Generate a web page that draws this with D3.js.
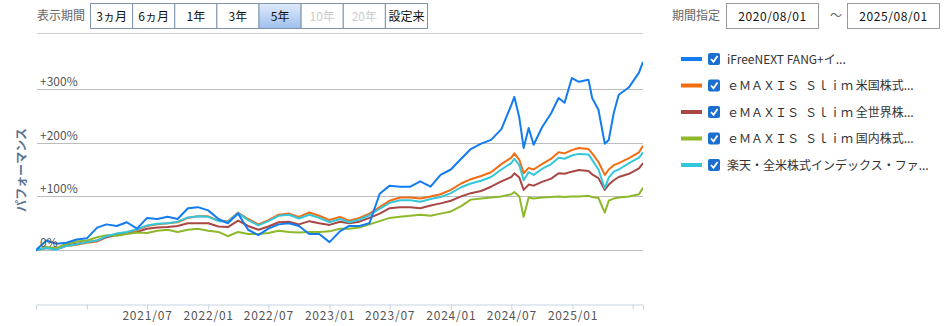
<!DOCTYPE html>
<html>
<head>
<meta charset="utf-8">
<script src="https://cdn.jsdelivr.net/npm/d3@7"></script>
<style>
  body { margin: 0; background: #fff; }
  svg { font-family: "Noto Sans CJK JP", "Noto Sans", sans-serif; }
</style>
</head>
<body>
<div id="chart"></div>
<script>
// 期間ボタン
var periodButtons = ["3ヵ月", "6ヵ月", "1年", "3年", "5年", "10年", "20年", "設定来"];
var selectedPeriod = "5年";
var disabledPeriods = ["10年", "20年"];

var startDate = "2020/08/01";
var endDate = "2025/08/01";

// ファンド名
var fundNames = [
  "iFreeNEXT FANG+イ...",
  "ｅＭＡＸＩＳ\u2002Ｓｌｉｍ 米国株式...",
  "ｅＭＡＸＩＳ\u2002Ｓｌｉｍ 全世界株...",
  "ｅＭＡＸＩＳ\u2002Ｓｌｉｍ 国内株式...",
  "楽天・全米株式インデックス・ファ..."
];
var fundColors = ["#127cf0", "#f26d12", "#a84744", "#8cb82a", "#34c6da"];

// 日付
var dates = [
  "2020-08-01","2020-09-01","2020-10-01","2020-11-01","2020-12-01",
  "2021-01-01","2021-02-01","2021-03-01","2021-04-01","2021-05-01","2021-06-01",
  "2021-07-01","2021-08-01","2021-09-01","2021-10-01","2021-11-01","2021-12-01",
  "2022-01-01","2022-02-01","2022-03-01","2022-04-01","2022-05-01","2022-06-01",
  "2022-07-01","2022-08-01","2022-09-01","2022-10-01","2022-11-01","2022-12-01",
  "2023-01-01","2023-02-01","2023-03-01","2023-04-01","2023-05-01","2023-06-01",
  "2023-07-01","2023-08-01","2023-09-01","2023-10-01","2023-11-01","2023-12-01",
  "2024-01-01","2024-02-01","2024-03-01","2024-04-01","2024-05-01","2024-06-01",
  "2024-07-01","2024-07-10","2024-07-25","2024-08-07","2024-08-22","2024-09-06",
  "2024-10-01","2024-10-29","2024-11-20","2024-12-08","2024-12-30","2025-01-20",
  "2025-02-18","2025-03-01","2025-03-20","2025-04-08","2025-04-20","2025-05-05",
  "2025-05-20","2025-06-20","2025-07-20","2025-08-01"
];

// パフォーマンス (%)
var fang = [0,18,12,14,20,22,42,48,45,52, 40,60,58,62,58,78,80,74,58,50,
  68,38,28,40,48,50,45,30,30,15, 35,45,45,50,105,120,118,118,128,118,
  140,150,170,188,198,205,225,270,
  285,246,190,227,196,228,255,283,274,320,313,317,283,261,198,205,255,289,303,330,350];
var usStock = [0,5,2,8,10,14,16,25,30,33, 38,45,48,50,52,60,63,63,55,54,
  70,58,48,56,66,68,62,70,64,56, 62,55,60,68,80,92,98,98,96,100,
  104,112,124,132,138,145,160,172,
  180,168,143,153,150,160,170,182,180,186,190,188,180,164,140,150,158,162,171,182,194];
var allWorld = [0,4,2,9,12,15,18,24,28,31, 34,40,42,43,45,50,50,50,44,43,
  55,45,38,44,52,53,48,54,50,47, 53,50,53,60,68,78,80,80,78,83,
  87,92,100,106,110,118,128,136,
  143,135,112,122,120,127,133,143,142,146,149,147,141,134,112,122,130,136,142,152,162];
var japan = [0,6,4,12,16,18,24,28,27,30, 33,32,36,38,34,38,40,36,34,26,
  34,30,30,32,36,34,33,34,34,35, 40,40,42,48,54,60,62,64,66,64,
  68,72,82,94,96,98,100,104,
  108,100,62,98,96,98,99,100,99,100,100,101,99,97,70,92,96,98,100,104,116];
var rakutenUS = [0,4,1,8,11,15,18,26,31,34, 39,46,49,50,53,61,63,62,54,53,
  69,56,46,54,64,66,59,66,60,52, 58,52,57,65,77,88,93,93,90,95,
  99,106,117,124,129,136,150,162,
  170,158,130,145,140,151,160,172,170,176,179,178,168,150,115,135,146,150,162,172,182];

var seriesValues = [fang, usStock, allWorld, japan, rakutenUS];

var yTicks = [0, 100, 200, 300];
var yTickLabels = ["0%", "+100%", "+200%", "+300%"];
var xTickDates = ["2021-01-01","2021-07-01","2022-01-01","2022-07-01","2023-01-01",
  "2023-07-01","2024-01-01","2024-07-01","2025-01-01","2025-07-01"];

var width = 946, height = 326;
var margin = { top: 35, right: 303, bottom: 22, left: 36 };

var parse = d3.timeParse("%Y-%m-%d");

var svg = d3.select("#chart").append("svg")
  .attr("width", width)
  .attr("height", height);

// スケール
var x = d3.scaleTime()
  .domain([parse("2020-08-01"), parse("2025-08-01")])
  .range([margin.left, width - margin.right]);

var y = d3.scaleLinear()
  .domain([-100, 400])
  .range([height - margin.bottom, margin.top]);

// 上部の期間ボタン
svg.append("text")
  .attr("x", 37).attr("y", 20)
  .attr("font-size", 12).attr("fill", "#666")
  .text("表示期間");

var btnX = d3.scaleBand().domain(periodButtons).range([90, 427]);
var btn = svg.append("g").selectAll("g").data(periodButtons).join("g")
  .attr("transform", function(d) { return "translate(" + btnX(d) + ",3)"; });

var grad = svg.append("defs").append("linearGradient")
  .attr("id", "sel").attr("x1", 0).attr("x2", 0).attr("y1", 0).attr("y2", 1);
grad.append("stop").attr("offset", "0%").attr("stop-color", "#dfeafa");
grad.append("stop").attr("offset", "100%").attr("stop-color", "#9fc0ec");

btn.append("rect")
  .attr("x", 0.5).attr("y", 0.5)
  .attr("width", btnX.bandwidth()).attr("height", 25)
  .attr("fill", function(d) { return d === selectedPeriod ? "url(#sel)" : "#fff"; })
  .attr("stroke", "#7f93ad");

btn.append("text")
  .attr("x", btnX.bandwidth() / 2 + 0.5).attr("y", 17.5)
  .attr("text-anchor", "middle").attr("font-size", 12)
  .attr("fill", function(d) { return disabledPeriods.indexOf(d) >= 0 ? "#ccc" : "#111"; })
  .text(function(d) { return d; });

svg.append("line")
  .attr("x1", 37).attr("x2", 643).attr("y1", 33.5).attr("y2", 33.5)
  .attr("stroke", "#ccc");

// 期間指定
svg.append("text")
  .attr("x", 672).attr("y", 20)
  .attr("font-size", 12).attr("fill", "#666")
  .text("期間指定");

[[726, startDate], [847, endDate]].forEach(function(b) {
  svg.append("rect")
    .attr("x", b[0] + 0.5).attr("y", 3.5).attr("width", 92).attr("height", 25)
    .attr("fill", "#fff").attr("stroke", "#999");
  svg.append("text")
    .attr("x", b[0] + 46.5).attr("y", 20.5).attr("text-anchor", "middle")
    .attr("font-size", 12).attr("fill", "#111").attr("letter-spacing", 0.6)
    .text(b[1]);
});
svg.append("text")
  .attr("x", 836).attr("y", 20).attr("text-anchor", "middle")
  .attr("font-size", 12).attr("fill", "#666")
  .text("～");

// グリッド
svg.append("g").selectAll("line").data(yTicks).join("line")
  .attr("x1", 37).attr("x2", 643)
  .attr("y1", function(d) { return Math.round(y(d)) + 0.5; })
  .attr("y2", function(d) { return Math.round(y(d)) + 0.5; })
  .attr("stroke", "#bdbdbd");

// X軸
var xAxis = svg.append("g")
  .attr("transform", "translate(0," + (height - margin.bottom + 0.5) + ")")
  .call(d3.axisBottom(x)
    .tickValues(xTickDates.map(parse))
    .tickSize(5)
    .tickFormat(function(d, i) {
      return (i === 0 || i === xTickDates.length - 1) ? "" : d3.timeFormat("%Y/%m")(d);
    }));
xAxis.select(".domain").attr("stroke", "#c6d3e0");
xAxis.selectAll(".tick line").attr("stroke", "#c6d3e0");
xAxis.selectAll(".tick text")
  .attr("font-family", "\"Noto Sans CJK JP\", sans-serif")
  .attr("font-size", 12).attr("fill", "#555").attr("letter-spacing", 0.8)
  .attr("dy", "0.6em");

// 線
svg.append("clipPath").attr("id", "plot")
  .append("rect").attr("x", margin.left).attr("y", margin.top)
  .attr("width", width - margin.left - margin.right)
  .attr("height", height - margin.top - margin.bottom);

var line = d3.line()
  .x(function(d, i) { return x(parse(dates[i])); })
  .y(function(d) { return y(d); });

var drawOrder = [1, 2, 3, 4, 0];
svg.append("g").attr("clip-path", "url(#plot)")
  .selectAll("path").data(drawOrder).join("path")
  .attr("fill", "none")
  .attr("stroke", function(k) { return fundColors[k]; })
  .attr("stroke-width", 2)
  .attr("stroke-linejoin", "round")
  .attr("d", function(k) { return line(seriesValues[k]); });

// Y目盛りラベル
svg.append("g").selectAll("text").data(yTicks).join("text")
  .attr("x", 40)
  .attr("y", function(d) { return y(d) - 3; })
  .attr("font-size", 12).attr("fill", "#555")
  .text(function(d, i) { return yTickLabels[i]; });

// Y軸タイトル
svg.append("text")
  .attr("transform", "translate(26,170) rotate(-90)")
  .attr("text-anchor", "middle")
  .attr("font-size", 12).attr("font-weight", "bold").attr("fill", "#5b7591")
  .text("パフォーマンス");

// 凡例
var legend = svg.append("g").selectAll("g").data(fundNames).join("g")
  .attr("transform", function(d, i) { return "translate(681," + (59 + i * 26.5) + ")"; });

legend.append("line")
  .attr("x1", 0).attr("x2", 21)
  .attr("stroke", function(d, i) { return fundColors[i]; })
  .attr("stroke-width", 4);

legend.append("rect")
  .attr("x", 27).attr("y", -6).attr("width", 12).attr("height", 12)
  .attr("rx", 2).attr("fill", "#1b6fcf");

legend.append("path")
  .attr("d", "M30,0 L32.5,2.8 L36.5,-3")
  .attr("fill", "none").attr("stroke", "#fff").attr("stroke-width", 1.8);

legend.append("text")
  .attr("x", 46).attr("y", 4.5)
  .attr("font-size", 12).attr("fill", "#333")
  .text(function(d) { return d; });
</script>
</body>
</html>
